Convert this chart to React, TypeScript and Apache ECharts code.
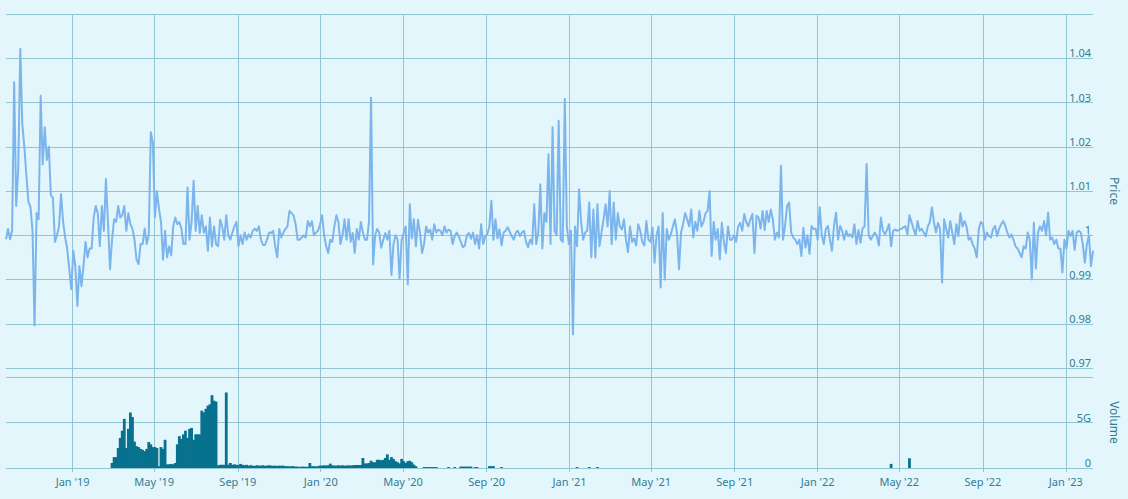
import React, { useEffect, useRef } from 'react';
import * as echarts from 'echarts';

// ---- data ----
const startDate = '2018-09-25';
const stepDays = 3;

const pricePart1 = [
  0.9991, 1.0014, 0.9991, 1.001, 1.0346, 1.0066, 1.015, 1.0421, 1.025, 1.02,
  1.0135, 1.0075, 1.0065, 1.001, 0.9796, 1.005, 1.0036, 1.0315, 1.016, 1.0244,
  1.017, 1.02, 1.009, 1.0085, 0.9985, 1.0, 1.002, 1.0093, 1.003, 0.9995,
  0.997, 0.9925, 0.9878, 0.9965, 0.993, 0.984, 0.993, 0.9885, 0.993, 0.9985,
  0.995, 0.997, 0.997, 1.004, 1.0066, 1.005, 0.9975, 1.0066, 1.001, 1.0127,
  1.003, 0.9923, 0.999, 1.0036, 1.003, 1.0066, 1.004, 1.0045, 1.0066, 1.001,
  1.005, 1.0025, 1.0015, 0.999, 0.9945, 0.9935, 0.998, 0.998, 1.0015, 0.998,
  1.0, 1.0233, 1.021, 1.004, 1.01, 1.006, 1.003, 0.9945, 1.001, 0.995,
  0.9975, 0.9955, 1.002, 1.004, 1.0025, 1.003, 1.0015, 0.998,
];
const pricePart2 = [
  0.998, 1.0108, 0.999, 1.003, 1.0123, 1.001, 1.0066, 1.0005, 1.0045, 1.0006,
  1.002, 0.9965, 1.004, 0.9975, 1.002, 0.998, 0.9975, 1.0035, 1.002, 0.999,
  1.0045, 1.0, 0.999, 1.0006, 1.002, 1.003, 0.9975, 1.0, 0.998, 1.0006,
  0.999, 1.0002, 0.9995, 1.001, 1.0015, 1.001, 1.002, 0.999, 0.9978, 0.9978,
  0.999, 1.0006, 1.0005, 1.001, 0.9975, 0.995, 1.0014, 0.9995, 1.0006, 1.0014,
  1.002, 1.0055, 1.005, 1.0045, 1.0025, 0.999, 0.999, 0.9995, 1.0, 0.9995,
  1.0032, 1.002, 1.0032, 1.0, 1.0006, 1.001, 1.0025, 1.0045, 1.0, 0.9975,
  0.996, 0.999, 0.9985, 1.002, 1.0045, 1.003, 0.998, 1.0, 1.0036, 0.999,
  1.0036, 0.9985, 1.0005, 0.996, 1.0014, 0.999, 1.003, 1.0006, 0.999,
];
const pricePart3 = [
  0.999, 1.003, 1.0311, 0.9934, 1.0, 1.0014, 1.0006, 0.9972, 0.999, 1.0005,
  0.999, 1.001, 0.991, 0.998, 1.0, 0.999, 0.9902, 0.999, 1.0005, 1.002,
  0.9889, 1.007, 0.9993, 1.0036, 0.9975, 1.0035, 1.0006, 0.996, 0.998, 1.002,
  1.0006, 1.0013, 0.999, 1.0025, 1.0006, 1.0013, 1.001, 1.0, 1.002, 1.0006,
  1.0013, 1.001, 0.998, 0.9998, 1.0006, 0.9998, 0.9985, 0.9973, 0.9977, 1.0,
  1.0005, 0.9992, 1.0006, 0.998, 1.0, 0.997, 1.0025, 0.998, 0.9998, 1.0002,
  1.002, 1.0078, 0.999, 1.0036, 0.9993, 1.0013, 0.9977, 1.0006, 1.001, 1.0018,
  1.0008, 0.9998, 0.999, 1.0006, 1.001, 0.9998, 1.0006, 1.001, 0.9985, 0.9973,
  0.999, 0.998, 1.007, 0.998, 1.0006, 1.0115, 0.997, 1.005, 1.003,
];
const pricePart4 = [
  1.0183, 0.998, 1.0244, 1.001, 1.0, 1.0259, 0.999, 0.9985, 1.0308, 1.002,
  0.998, 1.001, 0.9776, 1.002, 0.9975, 1.0104, 1.003, 0.999, 1.0006, 1.001,
  1.0074, 0.995, 1.0058, 0.995, 1.007, 0.9975, 1.0006, 1.0036, 1.007, 1.002,
  1.01, 0.998, 1.0074, 0.999, 1.005, 1.002, 1.0013, 1.0036, 0.999, 0.9962,
  1.002, 0.9985, 0.9993, 0.9977, 1.0025, 1.001, 0.9985, 0.9977, 1.0032, 0.999,
  0.9985, 1.0017, 0.9938, 1.0, 1.002, 0.9882, 1.005, 0.99, 1.0014, 0.999,
  1.0002, 1.002, 1.0036, 1.0005, 0.9923, 1.0006, 1.0025, 1.005, 1.0036, 1.002,
  1.0058, 0.9995, 1.003, 1.001, 1.0055, 1.002, 1.003, 1.005, 1.0055, 1.01,
  0.9953, 1.003, 0.999, 1.0014, 0.9946, 1.0028, 0.9985, 0.996, 1.002,
];
const pricePart5 = [
  0.999, 0.999, 1.0, 0.9985, 1.002, 1.0028, 1.001, 1.0048, 1.003, 1.002,
  1.0036, 1.0048, 0.996, 1.0044, 1.004, 1.0015, 1.0055, 1.0012, 1.0055, 1.003,
  1.0058, 1.0036, 0.999, 1.0006, 0.9995, 1.0157, 0.999, 1.0021, 1.0066, 1.0074,
  1.0006, 0.9995, 0.999, 0.998, 0.999, 0.9953, 1.0017, 0.9972, 1.0, 0.9958,
  1.0021, 1.0014, 1.0015, 0.999, 1.0063, 1.0, 0.998, 1.0014, 1.0021, 0.999,
  0.9965, 1.0021, 1.0051, 0.999, 1.0021, 1.001, 0.999, 1.001, 0.9998, 1.0002,
  0.9995, 1.0025, 0.998, 1.0012, 0.9983, 1.0016, 1.002, 1.0161, 1.0, 0.999,
  0.9998, 1.0006, 0.9998, 0.9977, 1.004, 1.001, 1.0002, 1.0012, 1.0025, 0.9975,
  1.001, 1.0013, 1.001, 1.0013, 1.0014, 1.0018, 1.002, 1.0002, 1.0045, 1.003,
];
const pricePart6 = [
  1.0014, 1.0, 1.0032, 1.001, 1.0015, 1.0006, 0.9998, 1.002, 1.003, 1.0063,
  1.003, 1.0006, 1.0028, 1.0014, 0.9893, 1.0036, 1.0015, 0.9995, 1.0032, 1.0006,
  0.998, 1.0025, 0.9998, 1.005, 1.002, 1.0032, 1.002, 0.999, 0.9995, 0.998,
  0.997, 0.995, 1.0014, 1.003, 1.0025, 0.999, 1.0006, 0.9998, 0.9995, 1.0014,
  1.0021, 0.9998, 1.0015, 1.0025, 1.0032, 1.0021, 1.0006, 0.9995, 1.0002, 0.999,
  0.9975, 0.997, 0.996, 0.995, 0.9975, 0.997, 1.0006, 0.999, 0.99, 1.0028,
  0.9925, 1.0006, 1.002, 1.001, 1.0032, 1.0, 1.0051, 0.999, 0.9995, 0.998,
  0.999, 0.997, 0.997, 0.9916, 0.999, 0.997, 1.001, 0.9998, 1.001, 0.9967,
  1.0006, 1.001, 1.0006, 0.998, 0.9938, 0.998, 1.0, 0.993, 0.9965,
];

// volume in G, starting at the 52nd step of the price dates
const volumeStartStep = 52;
const volumeMain: (number | null)[] = [
  0.55, 1.2, 1.2, 2.2, 3.3, 4.1, 5.4, 2.2,
  4.3, 6.1, 5.6, 2.9, 2.4, 2.3, 2.1, 2.0, 1.85, 2.1,
  2.85, 2.6, 2.3, 2.3, 2.2, 0.2, 2.3, 2.1, 3.1, 0.4,
  0.4, 0.45, 0.4, 0.55, 2.6, 3.5, 3.2, 3.7, 4.1, 3.3,
  4.3, 4.4, 3.1, 3.7, 3.7, 3.7, 6.3, 6.1, 6.5, 6.85,
  7.0, 8.0, 7.4, 7.3, 0.3, 0.35, 0.35, 0.35, 8.3, 0.37,
  0.55, 0.35, 0.4, 0.35, 0.3, 0.45, 0.35, 0.3, 0.35, 0.26,
  0.3, 0.26, 0.22, 0.3, 0.26, 0.26, 0.3, 0.24, 0.26, 0.3,
  0.26, 0.24, 0.26, 0.22, 0.26, 0.24, 0.26, 0.2, 0.2, 0.18,
  0.2, 0.2, 0.15, 0.15, 0.12, 0.15, 0.15, 0.12, 0.15, 0.55,
  0.2, 0.2, 0.18, 0.2, 0.26, 0.26, 0.3, 0.26, 0.3, 0.48,
  0.3, 0.26, 0.26, 0.3, 0.26, 0.3, 0.26, 0.26, 0.3, 0.26,
  0.3, 0.33, 0.33, 0.33, 0.33, 1.1, 0.5, 0.5, 0.55, 0.8,
  0.63, 0.63, 0.9, 0.9, 0.85, 0.9, 1.1, 1.5, 0.9, 1.2,
  1.0, 0.75, 0.63, 0.5, 1.0, 0.75, 0.55, 0.75, 0.8, 0.63,
  0.37, 0.2, null, null, null, 0.1, 0.1, 0.1, 0.1, 0.1,
  0.1, 0.1, null, null, null, null, null, 0.1, null, null,
  0.1, null, null, 0.15, 0.15, 0.15, 0.15, 0.15, 0.15, null,
  0.1, 0.1, null, null, null, null, null, 0.2, 0.2, 0.2,
  null, null, null, 0.1,
];
const lateVolumeDates = ['2021-01-12', '2021-01-30', '2021-02-11', '2022-04-19', '2022-05-16'];
const lateVolumeValues = [0.1, 0.1, 0.1, 0.45, 1.07];

const tickDates = [
  '2019-01-01', '2019-05-01', '2019-09-01', '2020-01-01', '2020-05-01', '2020-09-01',
  '2021-01-01', '2021-05-01', '2021-09-01', '2022-01-01', '2022-05-01', '2022-09-01', '2023-01-01',
];
const monthNames = ['Jan', 'Feb', 'Mar', 'Apr', 'May', 'Jun', 'Jul', 'Aug', 'Sep', 'Oct', 'Nov', 'Dec'];

const DAY = 86400000;
const toTs = (s: string) => Date.parse(s + 'T00:00:00Z');

export default function App() {
  const ref = useRef<HTMLDivElement>(null);

  useEffect(() => {
    document.body.style.margin = '0';
    document.body.style.background = '#e3f6fc';
    if (!ref.current) return;
    const chart = echarts.init(ref.current, undefined, { renderer: 'svg' });

    const startTs = toTs(startDate);
    const prices = [...pricePart1, ...pricePart2, ...pricePart3, ...pricePart4, ...pricePart5, ...pricePart6];
    const priceData = prices.map((v, i) => [startTs + i * stepDays * DAY, v]);
    const endTs = startTs + (prices.length - 1) * stepDays * DAY;

    const volumeData: any[] = [];
    volumeMain.forEach((v, k) => {
      if (v !== null) volumeData.push([startTs + (volumeStartStep + k) * stepDays * DAY, v]);
    });
    lateVolumeDates.forEach((d, k) => volumeData.push([toTs(d), lateVolumeValues[k]]));

    const ticks = tickDates.map(toTs);
    const gridColor = '#92c6d2';
    const textColor = '#337d92';
    const font = 'Noto Sans';

    const fmtDate = (v: number) => {
      const d = new Date(v);
      return monthNames[d.getUTCMonth()] + " '" + String(d.getUTCFullYear()).slice(2);
    };

    chart.setOption({
      animation: false,
      backgroundColor: '#e3f6fc',
      textStyle: { fontFamily: font },
      grid: [
        { left: 6, right: 30, top: 14, height: 354 },
        { left: 6, right: 30, top: 377, height: 91 },
      ],
      xAxis: [
        {
          type: 'value', gridIndex: 0, min: startTs, max: endTs, scale: true,
          axisLine: { show: false },
          axisLabel: { show: false, customValues: ticks },
          axisTick: { show: true, inside: false, length: 9, lineStyle: { color: gridColor }, customValues: ticks },
          splitLine: { show: true, lineStyle: { color: gridColor, width: 1 } },
        },
        {
          type: 'value', gridIndex: 1, min: startTs, max: endTs, scale: true,
          axisLine: { show: false },
          axisLabel: {
            show: true, customValues: ticks, color: textColor, fontSize: 11, margin: 8,
            fontFamily: font, formatter: (v: number) => fmtDate(v), hideOverlap: false,
            showMinLabel: true, showMaxLabel: true,
          },
          axisTick: { show: true, inside: false, length: 4, lineStyle: { color: gridColor }, customValues: ticks },
          splitLine: { show: true, lineStyle: { color: gridColor, width: 1 } },
        },
      ],
      yAxis: [
        {
          type: 'value', gridIndex: 0, position: 'right', min: 0.97, max: 1.05, interval: 0.01,
          name: 'Price', nameLocation: 'middle', nameRotate: -90, nameGap: 15,
          nameTextStyle: { color: textColor, fontSize: 12, fontFamily: font },
          axisLine: { show: false }, axisTick: { show: false },
          axisLabel: {
            inside: true, margin: 2, color: textColor, fontSize: 11, fontFamily: font,
            verticalAlign: 'bottom', showMaxLabel: false, showMinLabel: true,
            formatter: (v: number) => String(Math.round(v * 100) / 100),
          },
          splitLine: { show: true, lineStyle: { color: gridColor, width: 1 } },
        },
        {
          type: 'value', gridIndex: 1, position: 'right', min: 0, max: 10, interval: 5,
          name: 'Volume', nameLocation: 'middle', nameRotate: -90, nameGap: 15,
          nameTextStyle: { color: textColor, fontSize: 12, fontFamily: font },
          axisLine: { show: false }, axisTick: { show: false },
          axisLabel: {
            inside: true, margin: 2, color: textColor, fontSize: 11, fontFamily: font,
            verticalAlign: 'bottom', showMaxLabel: false, showMinLabel: true,
            formatter: (v: number) => (v === 0 ? '0' : v + 'G'),
          },
          splitLine: { show: true, lineStyle: { color: gridColor, width: 1 } },
        },
      ],
      series: [
        {
          type: 'line', xAxisIndex: 0, yAxisIndex: 0, data: priceData,
          showSymbol: false, symbol: 'none',
          lineStyle: { width: 2, color: '#7cb5ec', join: 'round' },
          itemStyle: { color: '#7cb5ec' },
          emphasis: { disabled: true },
        },
        {
          type: 'bar', xAxisIndex: 1, yAxisIndex: 1, data: volumeData,
          barWidth: 2.8,
          itemStyle: { color: '#07718e' },
          emphasis: { disabled: true },
        },
      ],
    });

    return () => chart.dispose();
  }, []);

  return <div ref={ref} style={{ width: 1128, height: 499 }} />;
}
